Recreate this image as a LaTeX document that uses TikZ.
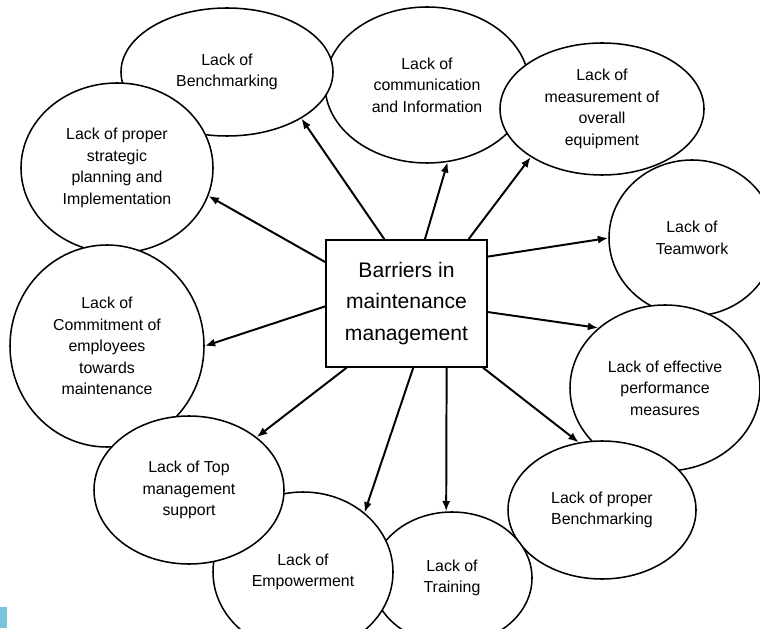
\documentclass[tikz,border=0pt]{standalone}
\usepackage{fontspec}
\setmainfont{Liberation Sans}
\usetikzlibrary{arrows.meta, shapes.geometric}
\definecolor{tabblue}{HTML}{7CC3DE}

\begin{document}
\begin{tikzpicture}[
  every node/.style={font=\fontsize{11.3}{15.4}\selectfont},
  barrier/.style={ellipse, draw, line width=1.1pt, fill=white, inner sep=0pt, align=center},
  hub/.style={rectangle, draw, line width=1pt, fill=white, minimum width=4.025cm, minimum height=3.175cm, align=center, font=\fontsize{15}{22.5}\selectfont},
  link/.style={line width=1.4pt, -{Latex[length=2.6mm, width=2mm]}},
]

\clip (0, 0) rectangle (19, 15.7);

% Barriers (drawn back to front)
\node[barrier, minimum width=5.1cm, minimum height=3.9cm] (comm) at (10.675, 13.575) {Lack of\\communication\\and Information};
\node[barrier, minimum width=5.1cm, minimum height=3.3cm] (meas) at (15.05, 12.975) {Lack of\\measurement of\\overall\\equipment};
\node[barrier, minimum width=5.3cm, minimum height=3.2cm] (bench) at (5.675, 13.9) {Lack of\\Benchmarking};
\node[barrier, minimum width=4.8cm, minimum height=4.25cm] (strat) at (2.925, 11.5) {Lack of proper\\strategic\\planning and\\Implementation};
\node[barrier, minimum width=4.85cm, minimum height=5.05cm] (commit) at (2.675, 7.05) {Lack of\\Commitment of\\employees\\towards\\maintenance};
\node[barrier, minimum width=4.15cm, minimum height=3.9cm] (team) at (17.3, 9.75) {Lack of\\Teamwork};
\node[barrier, minimum width=4.75cm, minimum height=4.15cm] (perf) at (16.625, 6.0) {Lack of effective\\performance\\measures};
\node[barrier, minimum width=4.7cm, minimum height=3.45cm] (pbench) at (15.05, 2.95) {Lack of proper\\Benchmarking};
\node[barrier, minimum width=4.0cm, minimum height=3.3cm] (train) at (11.3, 1.25) {Lack of\\Training};
\node[barrier, minimum width=4.5cm, minimum height=4.0cm] (empow) at (7.575, 1.4) {Lack of\\Empowerment};
\node[barrier, minimum width=4.75cm, minimum height=3.7cm] (topm) at (4.725, 3.45) {Lack of Top\\management\\support};

% Centre
\node[hub] (box) at (10.1625, 8.1125) {Barriers in\\maintenance\\management};

% Arrows
\draw[link] (box.109) -- (bench.-32);
\draw[link] (box.153) -- (strat.-17);
\draw[link] (box.74) -- (comm.-75);
\draw[link] (box.46) -- (meas.214);
\draw[link] (box.30) -- (team.180);
\draw[link] (box.-6) -- (perf.138);
\draw[link] (box.-40) -- (pbench.109);
\draw[link] (box.-58) -- (train.95);
\draw[link] (box.-84) -- (empow.44);
\draw[link] (box.227) -- (topm.38);
\draw[link] (box.182) -- (commit.0);

% Corner tab
\fill[tabblue] (0, 0) rectangle (0.175, 0.525);

\end{tikzpicture}
\end{document}
